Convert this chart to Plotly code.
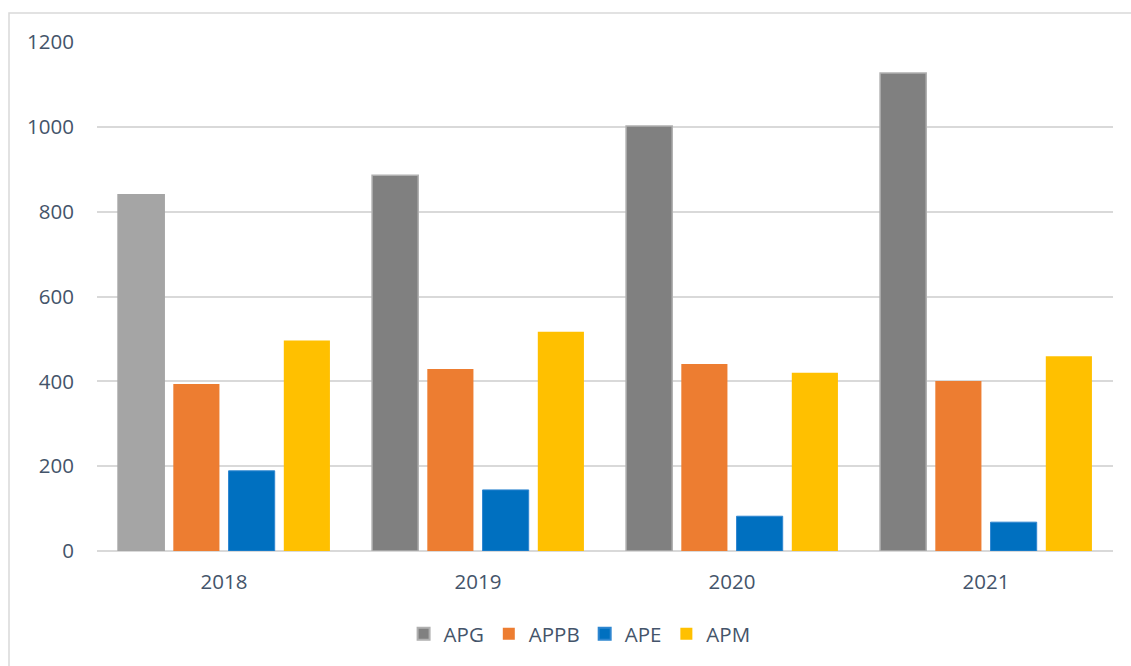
import plotly.graph_objects as go

years = ["2018", "2019", "2020", "2021"]
apg = [840, 886, 1002, 1127]
appb = [394, 429, 441, 401]
ape = [189, 144, 82, 68]
apm = [496, 517, 420, 459]
y_ticks = [0, 200, 400, 600, 800, 1000, 1200]

font_color = "#44546A"
font_family = "Open Sans, Segoe UI, sans-serif"
fs = 20.5

fig = go.Figure()

# legend-only swatch for APG (dark grey with light border)
fig.add_trace(go.Bar(
    name="APG", x=years[:1], y=[None], offsetgroup="APG",
    marker=dict(color="#808080", line=dict(color="#B0B0B0", width=1.5)),
    showlegend=True, hoverinfo="skip"))
fig.add_trace(go.Bar(
    name="APG", x=years, y=apg, offsetgroup="APG", showlegend=False,
    marker=dict(color=["#A5A5A5", "#808080", "#808080", "#808080"],
                line=dict(color=["#A5A5A5", "#B0B0B0", "#B0B0B0", "#B0B0B0"], width=1.5))))
fig.add_trace(go.Bar(name="APPB", x=years, y=appb, offsetgroup="APPB",
                     marker=dict(color="#ED7D31", line=dict(width=0))))
fig.add_trace(go.Bar(name="APE", x=years, y=ape, offsetgroup="APE",
                     marker=dict(color="#0070C0", line=dict(color="#2E86D0", width=1))))
fig.add_trace(go.Bar(name="APM", x=years, y=apm, offsetgroup="APM",
                     marker=dict(color="#FFC000", line=dict(width=0))))

fig.update_layout(
    width=1131, height=666,
    margin=dict(l=97, r=18, t=42, b=115),
    paper_bgcolor="white", plot_bgcolor="white",
    barmode="group", bargap=0.13, bargroupgap=0.165,
    font=dict(family=font_family, color=font_color, size=fs),
    legend=dict(orientation="h", x=0.475, xanchor="center", y=-0.163, yanchor="middle",
                font=dict(size=fs, color=font_color), itemsizing="constant",
                traceorder="normal"),
    xaxis=dict(showgrid=False, showline=False, ticks="", ticklabelstandoff=16,
               tickfont=dict(size=fs, color=font_color)),
    yaxis=dict(range=[0, 1200], tickvals=y_ticks, showgrid=True, gridcolor="#D9D9D9",
               gridwidth=1.5, zeroline=True, zerolinecolor="#D9D9D9", zerolinewidth=2,
               showline=False, ticks="", ticklabelstandoff=22,
               tickfont=dict(size=fs, color=font_color)),
    shapes=[dict(type="rect", xref="paper", yref="paper",
                 x0=(9 - 97) / 1016, x1=(1145 - 97) / 1016,
                 y0=(551 - 680) / 509, y1=(551 - 13) / 509,
                 line=dict(color="#D9D9D9", width=1.5), fillcolor="rgba(0,0,0,0)",
                 layer="below")],
)

fig.write_html("out.html")
